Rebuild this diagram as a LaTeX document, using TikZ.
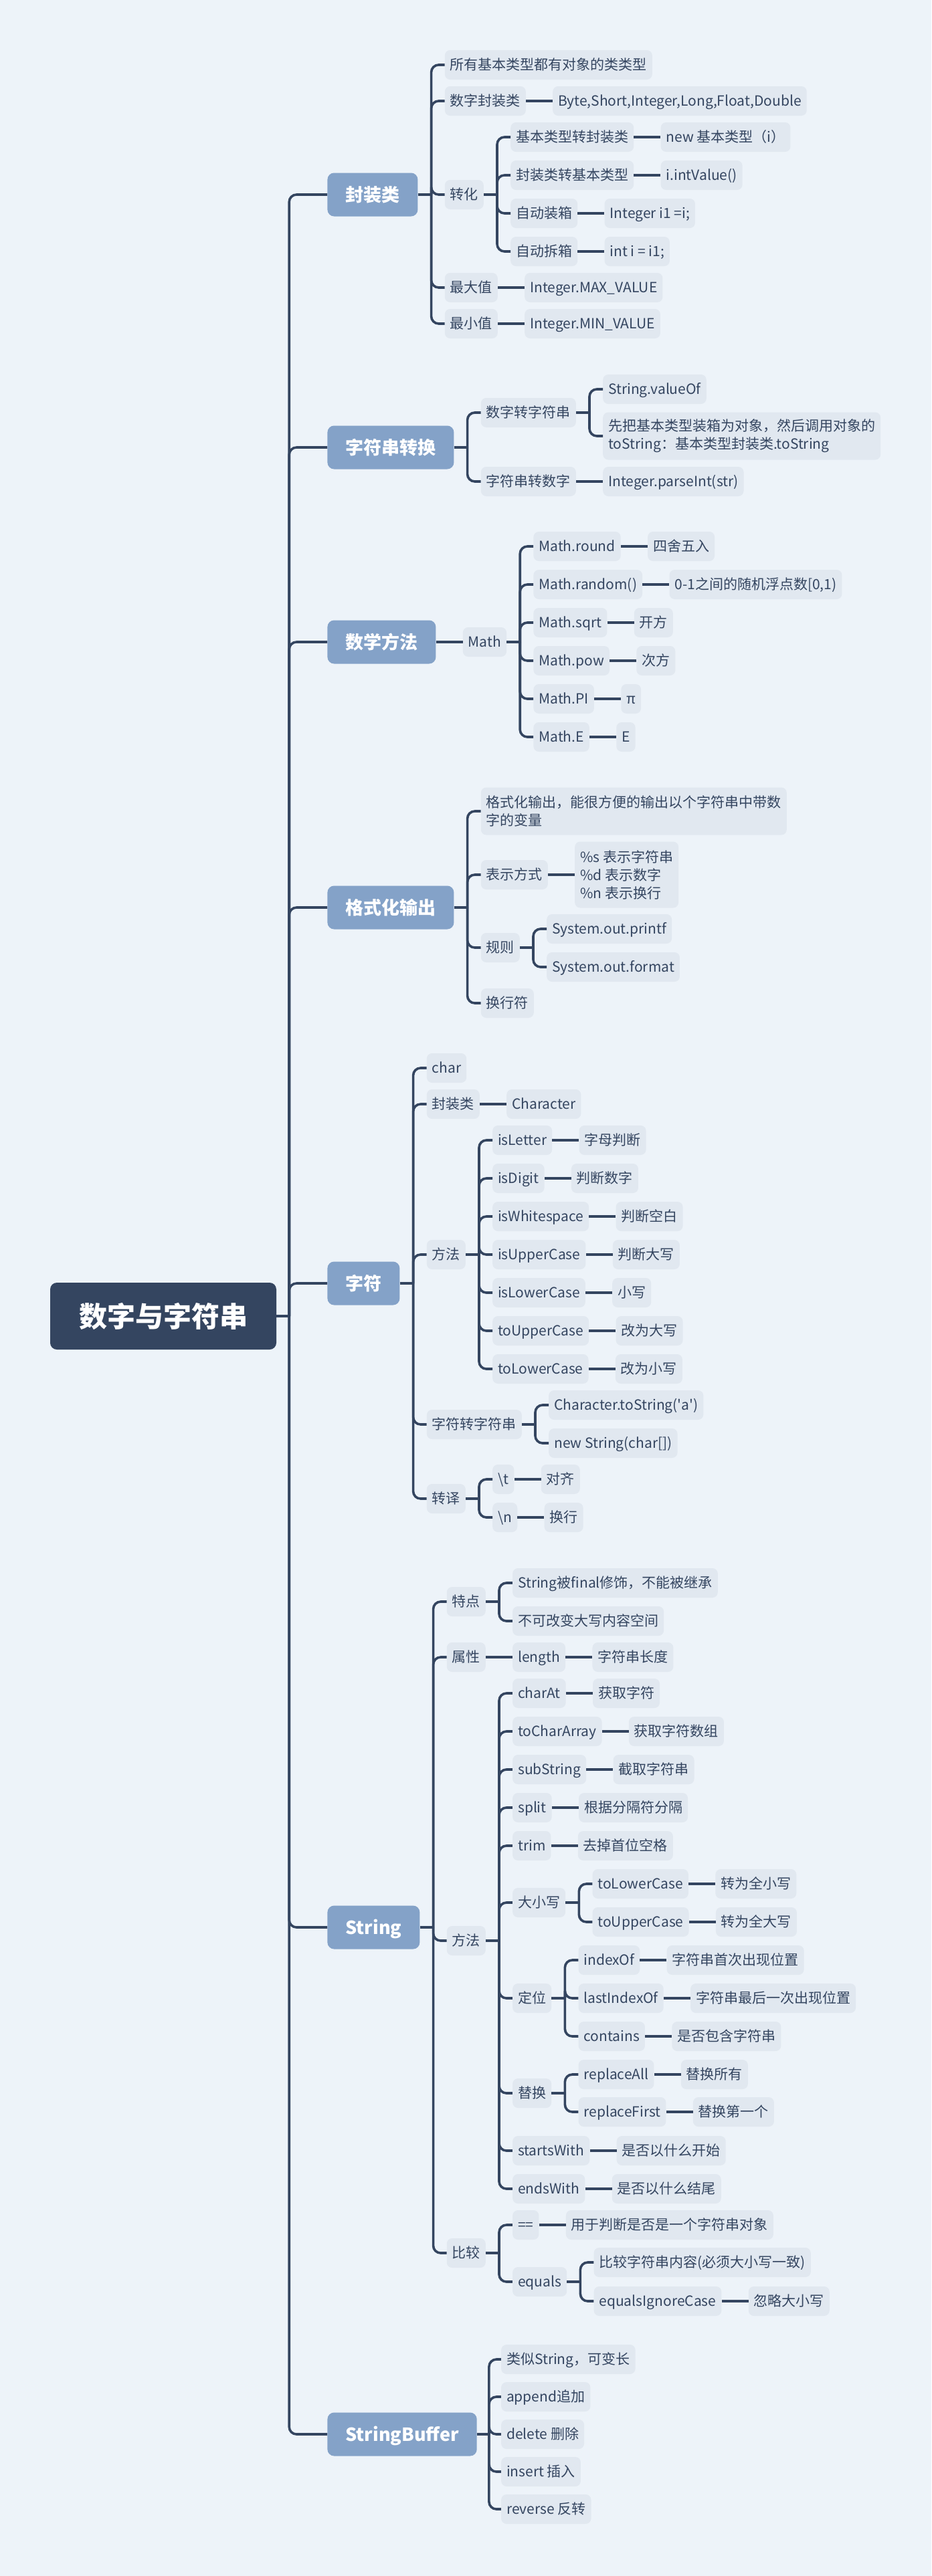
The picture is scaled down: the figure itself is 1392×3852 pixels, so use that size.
\documentclass[tikz,border=0pt]{standalone}
\usepackage{fontspec}
\setmainfont{Noto Sans CJK SC}
\usepackage{xcolor}
\definecolor{bgpaper}{HTML}{EDF3F9}
\definecolor{ink}{HTML}{344560}
\definecolor{branchblue}{HTML}{84A2C8}
\definecolor{leafgray}{HTML}{E1E8F0}
\usepackage{tikz}
\usetikzlibrary{positioning}

\begin{document}
\begin{tikzpicture}[x=1pt, y=1pt,
    root/.style={rectangle, rounded corners=10pt, fill=ink, text=white,
                 minimum width=338pt, minimum height=100pt,
                 font=\fontsize{42}{50}\selectfont\bfseries},
    branch/.style={rectangle, rounded corners=10pt, fill=branchblue, text=white,
                   inner xsep=27pt, inner ysep=0pt, minimum height=65pt,
                   text height=24pt, text depth=4pt,
                   font=\fontsize{27}{32}\selectfont\bfseries},
    cell/.style={rectangle, rounded corners=8pt, fill=leafgray, text=ink,
                 inner xsep=8pt, inner ysep=0pt, minimum height=44pt,
                 font=\fontsize{21}{27}\selectfont},
    leaf/.style={cell, text height=18pt, text depth=3pt},
    note/.style={cell, align=left},
    link/.style={draw=ink, line width=3.6pt},
    fork/.style={link, rounded corners=11pt},
  ]
  \fill[bgpaper] (0,0) rectangle (1392,-3852);
  \useasboundingbox (0,0) rectangle (1392,-3852);

  \node[root] (root) at (244,-1968) {数字与字符串};

  % main branches
  \node[branch, right=76pt of root, yshift=1677pt] (fzl) {封装类};
  \node[branch, right=76pt of root, yshift=1299pt] (zfc) {字符串转换};
  \node[branch, right=76pt of root, yshift=1008pt] (sx) {数学方法};
  \node[branch, right=76pt of root, yshift=611pt] (gs) {格式化输出};
  \node[branch, right=76pt of root, yshift=49pt] (zf) {字符};
  \node[branch, right=76pt of root, yshift=-914pt] (st) {String};
  \node[branch, right=76pt of root, yshift=-1672pt] (sb) {StringBuffer};

  % 封装类
  \node[leaf, right=40pt of fzl, yshift=194pt] (fz1) {所有基本类型都有对象的类类型};
  \node[leaf, right=40pt of fzl, yshift=140pt] (fz2) {数字封装类};
  \node[leaf, right=40pt of fz2] (fz2a) {Byte,Short,Integer,Long,Float,Double};
  \node[leaf, right=40pt of fzl] (fz3) {转化};
  \node[leaf, right=40pt of fz3, yshift=86pt] (zh1) {基本类型转封装类};
  \node[leaf, right=40pt of zh1] (zh1a) {new 基本类型（i）};
  \node[leaf, right=40pt of fz3, yshift=29pt] (zh2) {封装类转基本类型};
  \node[leaf, right=40pt of zh2] (zh2a) {i.intValue()};
  \node[leaf, right=40pt of fz3, yshift=-28pt] (zh3) {自动装箱};
  \node[leaf, right=40pt of zh3] (zh3a) {Integer i1 =i;};
  \node[leaf, right=40pt of fz3, yshift=-85pt] (zh4) {自动拆箱};
  \node[leaf, right=40pt of zh4] (zh4a) {int i = i1;};
  \node[leaf, right=40pt of fzl, yshift=-139pt] (fz4) {最大值};
  \node[leaf, right=40pt of fz4] (fz4a) {Integer.MAX\_VALUE};
  \node[leaf, right=40pt of fzl, yshift=-193pt] (fz5) {最小值};
  \node[leaf, right=40pt of fz5] (fz5a) {Integer.MIN\_VALUE};

  % 字符串转换
  \node[leaf, right=40pt of zfc, yshift=52pt] (zc1) {数字转字符串};
  \node[leaf, right=40pt of zc1, yshift=35pt] (zc1a) {String.valueOf};
  \node[note, right=40pt of zc1, yshift=-35pt, minimum height=71pt] (zc1b)
    {先把基本类型装箱为对象，然后调用对象的\\toString：基本类型封装类.toString};
  \node[leaf, right=40pt of zfc, yshift=-51pt] (zc2) {字符串转数字};
  \node[leaf, right=40pt of zc2] (zc2a) {Integer.parseInt(str)};

  % 数学方法
  \node[leaf, right=40pt of sx] (sxm) {Math};
  \node[leaf, right=40pt of sxm, yshift=143pt] (m1) {Math.round};
  \node[leaf, right=40pt of m1] (m1a) {四舍五入};
  \node[leaf, right=40pt of sxm, yshift=86pt] (m2) {Math.random()};
  \node[leaf, right=40pt of m2] (m2a) {0-1之间的随机浮点数[0,1)};
  \node[leaf, right=40pt of sxm, yshift=29pt] (m3) {Math.sqrt};
  \node[leaf, right=40pt of m3] (m3a) {开方};
  \node[leaf, right=40pt of sxm, yshift=-28pt] (m4) {Math.pow};
  \node[leaf, right=40pt of m4] (m4a) {次方};
  \node[leaf, right=40pt of sxm, yshift=-85pt] (m5) {Math.PI};
  \node[leaf, right=40pt of m5] (m5a) {π};
  \node[leaf, right=40pt of sxm, yshift=-142pt] (m6) {Math.E};
  \node[leaf, right=40pt of m6] (m6a) {E};

  % 格式化输出
  \node[note, right=40pt of gs, yshift=144pt, minimum height=71pt] (gs1)
    {格式化输出，能很方便的输出以个字符串中带数\\字的变量};
  \node[leaf, right=40pt of gs, yshift=49pt] (gs2) {表示方式};
  \node[note, right=40pt of gs2, minimum height=99pt] (gs2a)
    {\%s 表示字符串\\\%d 表示数字\\\%n 表示换行};
  \node[leaf, right=40pt of gs, yshift=-60pt] (gs3) {规则};
  \node[leaf, right=40pt of gs3, yshift=28pt] (gs3a) {System.out.printf};
  \node[leaf, right=40pt of gs3, yshift=-29pt] (gs3b) {System.out.format};
  \node[leaf, right=40pt of gs, yshift=-143pt] (gs4) {换行符};

  % 字符
  \node[leaf, right=40pt of zf, yshift=322pt] (zf1) {char};
  \node[leaf, right=40pt of zf, yshift=268pt] (zf2) {封装类};
  \node[leaf, right=40pt of zf2] (zf2a) {Character};
  \node[leaf, right=40pt of zf, yshift=43pt] (zf3) {方法};
  \node[leaf, right=40pt of zf3, yshift=171pt] (ff1) {isLetter};
  \node[leaf, right=40pt of ff1] (ff1a) {字母判断};
  \node[leaf, right=40pt of zf3, yshift=114pt] (ff2) {isDigit};
  \node[leaf, right=40pt of ff2] (ff2a) {判断数字};
  \node[leaf, right=40pt of zf3, yshift=57pt] (ff3) {isWhitespace};
  \node[leaf, right=40pt of ff3] (ff3a) {判断空白};
  \node[leaf, right=40pt of zf3] (ff4) {isUpperCase};
  \node[leaf, right=40pt of ff4] (ff4a) {判断大写};
  \node[leaf, right=40pt of zf3, yshift=-57pt] (ff5) {isLowerCase};
  \node[leaf, right=40pt of ff5] (ff5a) {小写};
  \node[leaf, right=40pt of zf3, yshift=-114pt] (ff6) {toUpperCase};
  \node[leaf, right=40pt of ff6] (ff6a) {改为大写};
  \node[leaf, right=40pt of zf3, yshift=-171pt] (ff7) {toLowerCase};
  \node[leaf, right=40pt of ff7] (ff7a) {改为小写};
  \node[leaf, right=40pt of zf, yshift=-211pt] (zf4) {字符转字符串};
  \node[leaf, right=40pt of zf4, yshift=29pt] (zs1) {Character.toString(\textquotesingle a\textquotesingle)};
  \node[leaf, right=40pt of zf4, yshift=-28pt] (zs2) {new String(char[])};
  \node[leaf, right=40pt of zf, yshift=-322pt] (zf5) {转译};
  \node[leaf, right=40pt of zf5, yshift=29pt] (zy1) {\textbackslash t};
  \node[leaf, right=40pt of zy1] (zy1a) {对齐};
  \node[leaf, right=40pt of zf5, yshift=-28pt] (zy2) {\textbackslash n};
  \node[leaf, right=40pt of zy2] (zy2a) {换行};

  % String
  \node[leaf, right=40pt of st, yshift=487pt] (st1) {特点};
  \node[leaf, right=40pt of st1, yshift=28pt] (td1) {String被final修饰，不能被继承};
  \node[leaf, right=40pt of st1, yshift=-29pt] (td2) {不可改变大写内容空间};
  \node[leaf, right=40pt of st, yshift=404pt] (st2) {属性};
  \node[leaf, right=40pt of st2] (sx1) {length};
  \node[leaf, right=40pt of sx1] (sx1a) {字符串长度};
  \node[leaf, right=40pt of st, yshift=-20pt] (st3) {方法};
  \node[leaf, right=40pt of st3, yshift=370pt] (sf1) {charAt};
  \node[leaf, right=40pt of sf1] (sf1a) {获取字符};
  \node[leaf, right=40pt of st3, yshift=313pt] (sf2) {toCharArray};
  \node[leaf, right=40pt of sf2] (sf2a) {获取字符数组};
  \node[leaf, right=40pt of st3, yshift=256pt] (sf3) {subString};
  \node[leaf, right=40pt of sf3] (sf3a) {截取字符串};
  \node[leaf, right=40pt of st3, yshift=199pt] (sf4) {split};
  \node[leaf, right=40pt of sf4] (sf4a) {根据分隔符分隔};
  \node[leaf, right=40pt of st3, yshift=142pt] (sf5) {trim};
  \node[leaf, right=40pt of sf5] (sf5a) {去掉首位空格};
  \node[leaf, right=40pt of st3, yshift=57pt] (sf6) {大小写};
  \node[leaf, right=40pt of sf6, yshift=28pt] (dx1) {toLowerCase};
  \node[leaf, right=40pt of dx1] (dx1a) {转为全小写};
  \node[leaf, right=40pt of sf6, yshift=-29pt] (dx2) {toUpperCase};
  \node[leaf, right=40pt of dx2] (dx2a) {转为全大写};
  \node[leaf, right=40pt of st3, yshift=-86pt] (sf7) {定位};
  \node[leaf, right=40pt of sf7, yshift=57pt] (dw1) {indexOf};
  \node[leaf, right=40pt of dw1] (dw1a) {字符串首次出现位置};
  \node[leaf, right=40pt of sf7] (dw2) {lastIndexOf};
  \node[leaf, right=40pt of dw2] (dw2a) {字符串最后一次出现位置};
  \node[leaf, right=40pt of sf7, yshift=-57pt] (dw3) {contains};
  \node[leaf, right=40pt of dw3] (dw3a) {是否包含字符串};
  \node[leaf, right=40pt of st3, yshift=-228pt] (sf8) {替换};
  \node[leaf, right=40pt of sf8, yshift=28pt] (th1) {replaceAll};
  \node[leaf, right=40pt of th1] (th1a) {替换所有};
  \node[leaf, right=40pt of sf8, yshift=-28pt] (th2) {replaceFirst};
  \node[leaf, right=40pt of th2] (th2a) {替换第一个};
  \node[leaf, right=40pt of st3, yshift=-314pt] (sf9) {startsWith};
  \node[leaf, right=40pt of sf9] (sf9a) {是否以什么开始};
  \node[leaf, right=40pt of st3, yshift=-371pt] (sf10) {endsWith};
  \node[leaf, right=40pt of sf10] (sf10a) {是否以什么结尾};
  \node[leaf, right=40pt of st, yshift=-487pt] (st4) {比较};
  \node[leaf, right=40pt of st4, yshift=42pt] (bj1) {==};
  \node[leaf, right=40pt of bj1] (bj1a) {用于判断是否是一个字符串对象};
  \node[leaf, right=40pt of st4, yshift=-43pt] (bj2) {equals};
  \node[leaf, right=40pt of bj2, yshift=29pt] (eq1) {比较字符串内容(必须大小写一致)};
  \node[leaf, right=40pt of bj2, yshift=-29pt] (eq2) {equalsIgnoreCase};
  \node[leaf, right=40pt of eq2] (eq2a) {忽略大小写};

  % StringBuffer
  \node[leaf, right=36pt of sb, yshift=112pt] (sb1) {类似String，可变长};
  \node[leaf, right=36pt of sb, yshift=56pt] (sb2) {append追加};
  \node[leaf, right=36pt of sb] (sb3) {delete 删除};
  \node[leaf, right=36pt of sb, yshift=-56pt] (sb4) {insert 插入};
  \node[leaf, right=36pt of sb, yshift=-112pt] (sb5) {reverse 反转};

  % forks
  \draw[link] (root.east) -- ++(19,0) coordinate (root-b);
  \foreach \k in {fzl,zfc,sx,gs,zf,st,sb} \draw[fork] (root-b) |- (\k.west);
  \draw[link] (fzl.east) -- ++(20,0) coordinate (fzl-b);
  \foreach \k in {fz1,fz2,fz3,fz4,fz5} \draw[fork] (fzl-b) |- (\k.west);
  \draw[link] (fz3.east) -- ++(20,0) coordinate (fz3-b);
  \foreach \k in {zh1,zh2,zh3,zh4} \draw[fork] (fz3-b) |- (\k.west);
  \draw[link] (zfc.east) -- ++(20,0) coordinate (zfc-b);
  \foreach \k in {zc1,zc2} \draw[fork] (zfc-b) |- (\k.west);
  \draw[link] (zc1.east) -- ++(20,0) coordinate (zc1-b);
  \foreach \k in {zc1a,zc1b} \draw[fork] (zc1-b) |- (\k.west);
  \draw[link] (sxm.east) -- ++(20,0) coordinate (sxm-b);
  \foreach \k in {m1,m2,m3,m4,m5,m6} \draw[fork] (sxm-b) |- (\k.west);
  \draw[link] (gs.east) -- ++(20,0) coordinate (gs-b);
  \foreach \k in {gs1,gs2,gs3,gs4} \draw[fork] (gs-b) |- (\k.west);
  \draw[link] (gs3.east) -- ++(20,0) coordinate (gs3-b);
  \foreach \k in {gs3a,gs3b} \draw[fork] (gs3-b) |- (\k.west);
  \draw[link] (zf.east) -- ++(20,0) coordinate (zf-b);
  \foreach \k in {zf1,zf2,zf3,zf4,zf5} \draw[fork] (zf-b) |- (\k.west);
  \draw[link] (zf3.east) -- ++(20,0) coordinate (zf3-b);
  \foreach \k in {ff1,ff2,ff3,ff4,ff5,ff6,ff7} \draw[fork] (zf3-b) |- (\k.west);
  \draw[link] (zf4.east) -- ++(20,0) coordinate (zf4-b);
  \foreach \k in {zs1,zs2} \draw[fork] (zf4-b) |- (\k.west);
  \draw[link] (zf5.east) -- ++(20,0) coordinate (zf5-b);
  \foreach \k in {zy1,zy2} \draw[fork] (zf5-b) |- (\k.west);
  \draw[link] (st.east) -- ++(20,0) coordinate (st-b);
  \foreach \k in {st1,st2,st3,st4} \draw[fork] (st-b) |- (\k.west);
  \draw[link] (st1.east) -- ++(20,0) coordinate (st1-b);
  \foreach \k in {td1,td2} \draw[fork] (st1-b) |- (\k.west);
  \draw[link] (st3.east) -- ++(20,0) coordinate (st3-b);
  \foreach \k in {sf1,sf2,sf3,sf4,sf5,sf6,sf7,sf8,sf9,sf10} \draw[fork] (st3-b) |- (\k.west);
  \draw[link] (sf6.east) -- ++(20,0) coordinate (sf6-b);
  \foreach \k in {dx1,dx2} \draw[fork] (sf6-b) |- (\k.west);
  \draw[link] (sf7.east) -- ++(20,0) coordinate (sf7-b);
  \foreach \k in {dw1,dw2,dw3} \draw[fork] (sf7-b) |- (\k.west);
  \draw[link] (sf8.east) -- ++(20,0) coordinate (sf8-b);
  \foreach \k in {th1,th2} \draw[fork] (sf8-b) |- (\k.west);
  \draw[link] (st4.east) -- ++(20,0) coordinate (st4-b);
  \foreach \k in {bj1,bj2} \draw[fork] (st4-b) |- (\k.west);
  \draw[link] (bj2.east) -- ++(20,0) coordinate (bj2-b);
  \foreach \k in {eq1,eq2} \draw[fork] (bj2-b) |- (\k.west);
  \draw[link] (sb.east) -- ++(18,0) coordinate (sb-b);
  \foreach \k in {sb1,sb2,sb3,sb4,sb5} \draw[fork] (sb-b) |- (\k.west);

  % straight links
  \foreach \a/\b in {fz2/fz2a, zh1/zh1a, zh2/zh2a, zh3/zh3a, zh4/zh4a, fz4/fz4a,
      fz5/fz5a, zc2/zc2a, sx/sxm, m1/m1a, m2/m2a, m3/m3a, m4/m4a, m5/m5a, m6/m6a,
      gs2/gs2a, zf2/zf2a, ff1/ff1a, ff2/ff2a, ff3/ff3a, ff4/ff4a, ff5/ff5a,
      ff6/ff6a, ff7/ff7a, zy1/zy1a, zy2/zy2a, st2/sx1, sx1/sx1a, sf1/sf1a,
      sf2/sf2a, sf3/sf3a, sf4/sf4a, sf5/sf5a, dx1/dx1a, dx2/dx2a, dw1/dw1a,
      dw2/dw2a, dw3/dw3a, th1/th1a, th2/th2a, sf9/sf9a, sf10/sf10a, bj1/bj1a,
      eq2/eq2a}
    \draw[link] (\a) -- (\b);
\end{tikzpicture}
\end{document}
